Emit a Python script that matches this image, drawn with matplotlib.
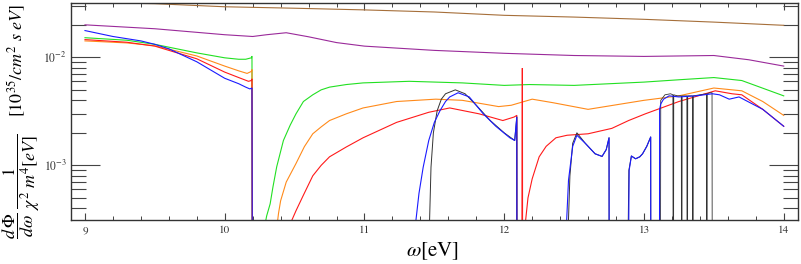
import numpy as np
import matplotlib
matplotlib.use("Agg")
import matplotlib.pyplot as plt
from matplotlib.ticker import LogLocator, MultipleLocator, NullFormatter, FixedLocator

plt.rcParams['font.family'] = 'STIXGeneral'
plt.rcParams['mathtext.fontset'] = 'stix'

LOW = 1e-6  # value far below the frame: the curve falls out of the plot

# brown (top)
brown_x = [9.0, 9.5, 10.0, 10.5, 11.0, 11.5, 12.0, 12.5, 13.0, 13.5, 14.0]
brown_y = [0.0322, 0.0314, 0.0294, 0.0285, 0.0275, 0.0263, 0.0245, 0.0236, 0.0225, 0.0212, 0.0198]

# purple
purple_x = [9.0, 9.5, 10.0, 10.2, 10.3, 10.44, 10.6, 10.8, 11.0, 11.5, 12.0, 12.5, 13.0, 13.5, 13.75, 14.0]
purple_y = [0.0200, 0.0184, 0.0162, 0.0156, 0.0162, 0.0169, 0.0155, 0.0137, 0.0127, 0.0116, 0.0109,
            0.0104, 0.0102, 0.0104, 0.0095, 0.0083]

# green
green1_x = [9.0, 9.3, 9.5, 9.8, 10.0, 10.1, 10.15, 10.19, 10.195, 10.2]
green1_y = [0.0152, 0.0144, 0.0132, 0.0110, 0.0099, 0.0096, 0.0096, 0.0099, 0.0102, LOW]
green2_x = [10.28, 10.30, 10.325, 10.345, 10.372, 10.42, 10.468, 10.51, 10.563, 10.63, 10.69, 10.75,
            10.87, 10.99, 11.32, 11.7, 12.0, 12.18, 12.5, 13.0, 13.25, 13.5, 13.7, 14.0]
green2_y = [2.5e-4, 3.4e-4, 4.4e-4, 6.3e-4, 9.7e-4, 0.0017, 0.00235, 0.0030, 0.0039, 0.0045, 0.0050,
            0.0053, 0.0056, 0.0058, 0.0060, 0.0058, 0.0055, 0.0056, 0.0055, 0.0059, 0.0062, 0.0065,
            0.0061, 0.0044]

# orange
orange1_x = [9.0, 9.3, 9.5, 9.8, 10.0, 10.1, 10.16, 10.19, 10.195, 10.2]
orange1_y = [0.0142, 0.0136, 0.0128, 0.0103, 0.0083, 0.0075, 0.0071, 0.0074, 0.0077, LOW]
orange2_x = [10.37, 10.385, 10.40, 10.44, 10.51, 10.57, 10.63, 10.69, 10.75, 10.87, 10.99, 11.23,
             11.51, 11.7, 11.96, 12.05, 12.2, 12.35, 12.6, 13.0, 13.25, 13.5, 13.7, 13.85, 14.0]
orange2_y = [2.5e-4, 3.6e-4, 4.7e-4, 7.0e-4, 0.00104, 0.00149, 0.00196, 0.00227, 0.0026, 0.0030,
             0.0034, 0.0039, 0.0041, 0.0040, 0.0035, 0.0036, 0.0041, 0.0038, 0.0033, 0.0040, 0.0044,
             0.0052, 0.0049, 0.0039, 0.0029]

# red
red1_x = [9.0, 9.3, 9.5, 9.8, 10.0, 10.1, 10.17, 10.19, 10.195, 10.2]
red1_y = [0.0146, 0.0138, 0.0127, 0.0097, 0.0073, 0.0065, 0.0060, 0.0061, 0.0063, LOW]
red2_x = [10.455, 10.48, 10.51, 10.56, 10.63, 10.69, 10.75, 10.87, 10.99, 11.23, 11.46, 11.61,
          11.82, 11.99, 12.07, 12.09, 12.092]
red2_y = [2.5e-4, 3.1e-4, 3.8e-4, 5.2e-4, 8.0e-4, 1.0e-3, 0.0012, 0.00148, 0.0018, 0.0025, 0.0031,
          0.0034, 0.0030, 0.0026, 0.0028, 0.0029, LOW]
red_spike_x = [12.124, 12.127, 12.131, 12.134]
red_spike_y = [LOW, 0.0079, 0.0079, LOW]
red3_x = [12.152, 12.17, 12.2, 12.25, 12.30, 12.37, 12.45, 12.6, 12.77, 12.89, 13.01, 13.25, 13.51,
          13.63, 13.70, 13.85, 14.0]
red3_y = [3e-4, 5e-4, 7.5e-4, 0.0012, 0.0015, 0.0018, 0.0019, 0.00196, 0.0022, 0.0026, 0.0030,
          0.0039, 0.0049, 0.0046, 0.0045, 0.0033, 0.0023]

# black
black2_x = [11.462, 11.476, 11.493, 11.52, 11.55, 11.58, 11.65, 11.72, 11.8, 11.9, 12.0, 12.075,
            12.09, 12.092]
black2_y = [2e-4, 9.6e-4, 0.0020, 0.0032, 0.0041, 0.0046, 0.0050, 0.0046, 0.0036, 0.0026, 0.0020,
            0.0017, 0.0028, LOW]
black3_x = [12.455, 12.47, 12.49, 12.52, 12.58, 12.65, 12.70, 12.73, 12.75, 12.752]
black3_y = [2e-4, 8e-4, 0.0016, 0.0020, 0.0016, 0.00128, 0.00121, 0.0014, 0.0018, LOW]
black4_x = [12.886, 12.892, 12.91, 12.94, 12.97, 12.99, 13.02, 13.048, 13.05]
black4_y = [2e-4, 9e-4, 0.00122, 0.00115, 0.0012, 0.00128, 0.0015, 0.00183, LOW]
black5_x = [13.116, 13.12, 13.15, 13.19, 13.207, 13.21, 13.213, 13.24, 13.267, 13.27, 13.273,
            13.307, 13.31, 13.313, 13.347, 13.35, 13.353, 13.40, 13.447, 13.45, 13.453, 13.47,
            13.487, 13.49]
black5_y = [LOW, 0.0040, 0.0045, 0.0046, 0.0045, LOW, 0.0045, 0.0044, 0.0044, LOW, 0.0044,
            0.0044, LOW, 0.0044, 0.0044, LOW, 0.0044, 0.0045, 0.0046, LOW, 0.0046, 0.0047,
            0.0047, LOW]

# blue
blue1_x = [9.0, 9.2, 9.4, 9.5, 9.6, 9.8, 10.0, 10.1, 10.15, 10.18, 10.195, 10.2]
blue1_y = [0.0177, 0.0156, 0.0142, 0.0132, 0.0120, 0.0091, 0.0064, 0.0057, 0.0053, 0.0051, 0.0052, LOW]
blue2_x = [11.36, 11.39, 11.42, 11.46, 11.50, 11.54, 11.58, 11.61, 11.67, 11.75, 11.85, 11.94,
           12.04, 12.075, 12.09, 12.092]
blue2_y = [2.5e-4, 5.5e-4, 9.6e-4, 0.0017, 0.0025, 0.0032, 0.0039, 0.0043, 0.0047, 0.0043, 0.0030,
           0.0023, 0.0018, 0.0017, 0.0028, LOW]
blue3_x = [12.44, 12.46, 12.49, 12.52, 12.58, 12.65, 12.70, 12.73, 12.75, 12.752]
blue3_y = [2e-4, 7.3e-4, 0.0015, 0.0019, 0.0016, 0.00128, 0.00121, 0.0014, 0.0018, LOW]
blue4_x = [12.89, 12.894, 12.91, 12.94, 12.97, 12.99, 13.02, 13.048, 13.05]
blue4_y = [2e-4, 9e-4, 0.00122, 0.00115, 0.0012, 0.00128, 0.0015, 0.00183, LOW]
blue5_x = [13.11, 13.112, 13.12, 13.14, 13.18, 13.25, 13.37, 13.49, 13.54, 13.61, 13.68, 13.85, 14.0]
blue5_y = [LOW, 0.0033, 0.0037, 0.0041, 0.0044, 0.0043, 0.0044, 0.0046, 0.0045, 0.0041, 0.0043,
           0.0033, 0.0023]

curves = [
    (brown_x, brown_y, '#a66f3a', 0.8),
    (purple_x, purple_y, '#9a2a9a', 0.8),
    (green1_x, green1_y, '#22e022', 0.8),
    (green2_x, green2_y, '#22e022', 0.8),
    (orange1_x, orange1_y, '#ff8a1a', 0.8),
    (orange2_x, orange2_y, '#ff8a1a', 0.8),
    (red1_x, red1_y, '#ff1a1a', 0.8),
    (red2_x, red2_y, '#ff1a1a', 0.8),
    (red3_x, red3_y, '#ff1a1a', 0.8),
    (black2_x, black2_y, '#333333', 0.7),
    (black3_x, black3_y, '#333333', 0.7),
    (black4_x, black4_y, '#333333', 0.7),
    (black5_x, black5_y, '#333333', 0.6),
    (blue1_x, blue1_y, '#1a1aff', 0.8),
    (blue2_x, blue2_y, '#1a1aff', 0.8),
    (blue3_x, blue3_y, '#1a1aff', 0.8),
    (blue4_x, blue4_y, '#1a1aff', 0.8),
    (blue5_x, blue5_y, '#1a1aff', 0.8),
    (red_spike_x, red_spike_y, '#ff1a1a', 0.6),
]

fig = plt.figure(figsize=(8.01, 2.64), dpi=100)
ax = fig.add_axes([71 / 801, 1 - 220 / 264, 726.7 / 801, 217.3 / 264])

for x, y, c, w in curves:
    ax.plot(x, y, color=c, lw=w)

ax.set_yscale('log')
ax.set_xlim(8.9, 14.1)
ax.set_ylim(10 ** -3.506, 10 ** -1.494)

ax.xaxis.set_major_locator(FixedLocator([9, 10, 11, 12, 13, 14]))
ax.xaxis.set_minor_locator(MultipleLocator(0.2))
ax.yaxis.set_major_locator(LogLocator(base=10, numticks=10))
ax.yaxis.set_minor_locator(LogLocator(base=10, subs=np.arange(2, 10), numticks=20))
ax.yaxis.set_minor_formatter(NullFormatter())

tc = '#444444'
ax.tick_params(axis='y', which='major', direction='in', length=21, width=0.8, color=tc,
               left=True, right=True, labelsize=8.5, labelcolor='#333333', pad=3)
ax.tick_params(axis='y', which='minor', direction='in', length=10.5, width=0.8, color=tc,
               left=True, right=True)
ax.tick_params(axis='x', which='major', direction='in', length=5, width=0.8, color=tc,
               top=True, bottom=True, labelsize=8, labelcolor='#333333', pad=4)
ax.tick_params(axis='x', which='minor', direction='in', length=3, width=0.7, color=tc,
               top=True, bottom=True)
for s in ax.spines.values():
    s.set_color('#333333')
    s.set_linewidth(1.0)

ax.set_xlabel(r'$\omega$[eV]', fontsize=15)
ax.xaxis.set_label_coords(0.497, -0.143)
ax.xaxis.label.set_va('center')

# y label in two pieces: the fractions and the larger unit bracket
fig.text(21 / 801, 1 - 186 / 264,
         r'$\dfrac{d\,\Phi}{d\omega}\;\dfrac{1}{\chi^2\ m^4[eV]}$',
         rotation=90, ha='center', va='center', fontsize=13)
fig.text(17 / 801, 1 - 61 / 264,
         r'$[10^{35}/cm^2\ s\ eV]$',
         rotation=90, ha='center', va='center', fontsize=13)

fig.savefig('out.png', dpi=100)
